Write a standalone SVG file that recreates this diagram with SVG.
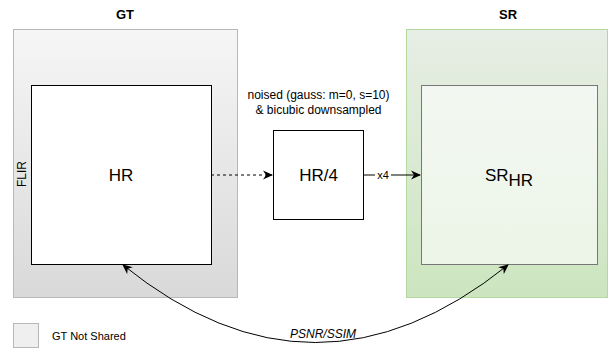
<svg xmlns="http://www.w3.org/2000/svg" width="609" height="355" viewBox="0 0 609 355">
<defs>
<linearGradient id="gGray" x1="0" y1="0" x2="0" y2="1">
<stop offset="0" stop-color="#f6f6f6"/>
<stop offset="1" stop-color="#d9d9d9"/>
</linearGradient>
<linearGradient id="gGreen" x1="0" y1="0" x2="0" y2="1">
<stop offset="0" stop-color="#e7eee5"/>
<stop offset="1" stop-color="#cce5bf"/>
</linearGradient>
<marker id="arr" viewBox="0 0 10 10" refX="9" refY="5" markerWidth="10" markerHeight="10" markerUnits="userSpaceOnUse" orient="auto-start-reverse">
<path d="M0,0.5 L10,5 L0,9.5 L3,5 Z" fill="#000"/>
</marker>
<style>
text{font-family:"Liberation Sans",Arial,sans-serif;fill:#000}
.title{font-size:13px;font-weight:bold;text-anchor:middle}
.big{font-size:17px;text-anchor:middle}
.small{font-size:12px}
.conn{fill:none;stroke:#000;stroke-width:1}
</style>
</defs>

<g id="gt">
<rect x="13.5" y="29.5" width="224" height="268" fill="url(#gGray)" stroke="#b8b8b8"/>
<text class="title" x="125" y="19">GT</text>
<text class="small" transform="translate(26,174) rotate(-90)" text-anchor="middle" font-size="11">FLIR</text>
</g>
<g id="hr">
<rect x="31.5" y="85.5" width="180" height="179" fill="#fff" stroke="#000"/>
<text class="big" x="121" y="181">HR</text>
</g>
<g id="sr">
<rect x="406.5" y="29.5" width="201" height="268" fill="url(#gGreen)" stroke="#b2d9a0"/>
<text class="title" x="508" y="19">SR</text>
</g>
<g id="srhr">
<rect x="421.5" y="85.5" width="176" height="179" fill="#fff" fill-opacity="0.6" stroke="#777"/>
<text class="big" x="509" y="181">SR<tspan dy="5">HR</tspan></text>
</g>
<g id="hr4">
<rect x="273.5" y="130.5" width="90" height="89" fill="#fff" stroke="#000"/>
<text class="big" x="318.5" y="181">HR/4</text>
</g>
<g id="noise-label">
<text class="small" x="318.5" y="99" text-anchor="middle">noised (gauss: m=0, s=10)</text>
<text class="small" x="318.5" y="114" text-anchor="middle">&amp; bicubic downsampled</text>
</g>
<g id="legend">
<rect x="13.5" y="323.5" width="25" height="24" fill="#efefef" stroke="#b8b8b8"/>
<text x="52" y="340" font-size="11">GT Not Shared</text>
</g>

<g id="connectors">
<line class="conn" x1="211" y1="175" x2="272" y2="175" stroke-dasharray="3 3" marker-end="url(#arr)"/>
<line class="conn" x1="363" y1="175" x2="375" y2="175"/>
<line class="conn" x1="391" y1="175" x2="420" y2="175" marker-end="url(#arr)"/>
<text x="383" y="179" font-size="11" text-anchor="middle">x4</text>
<path class="conn" d="M123,265 Q315,420 508,265" marker-start="url(#arr)" marker-end="url(#arr)"/>
<text x="323" y="338" font-size="12" font-style="italic" text-anchor="middle">PSNR/SSIM</text>
</g>
</svg>
